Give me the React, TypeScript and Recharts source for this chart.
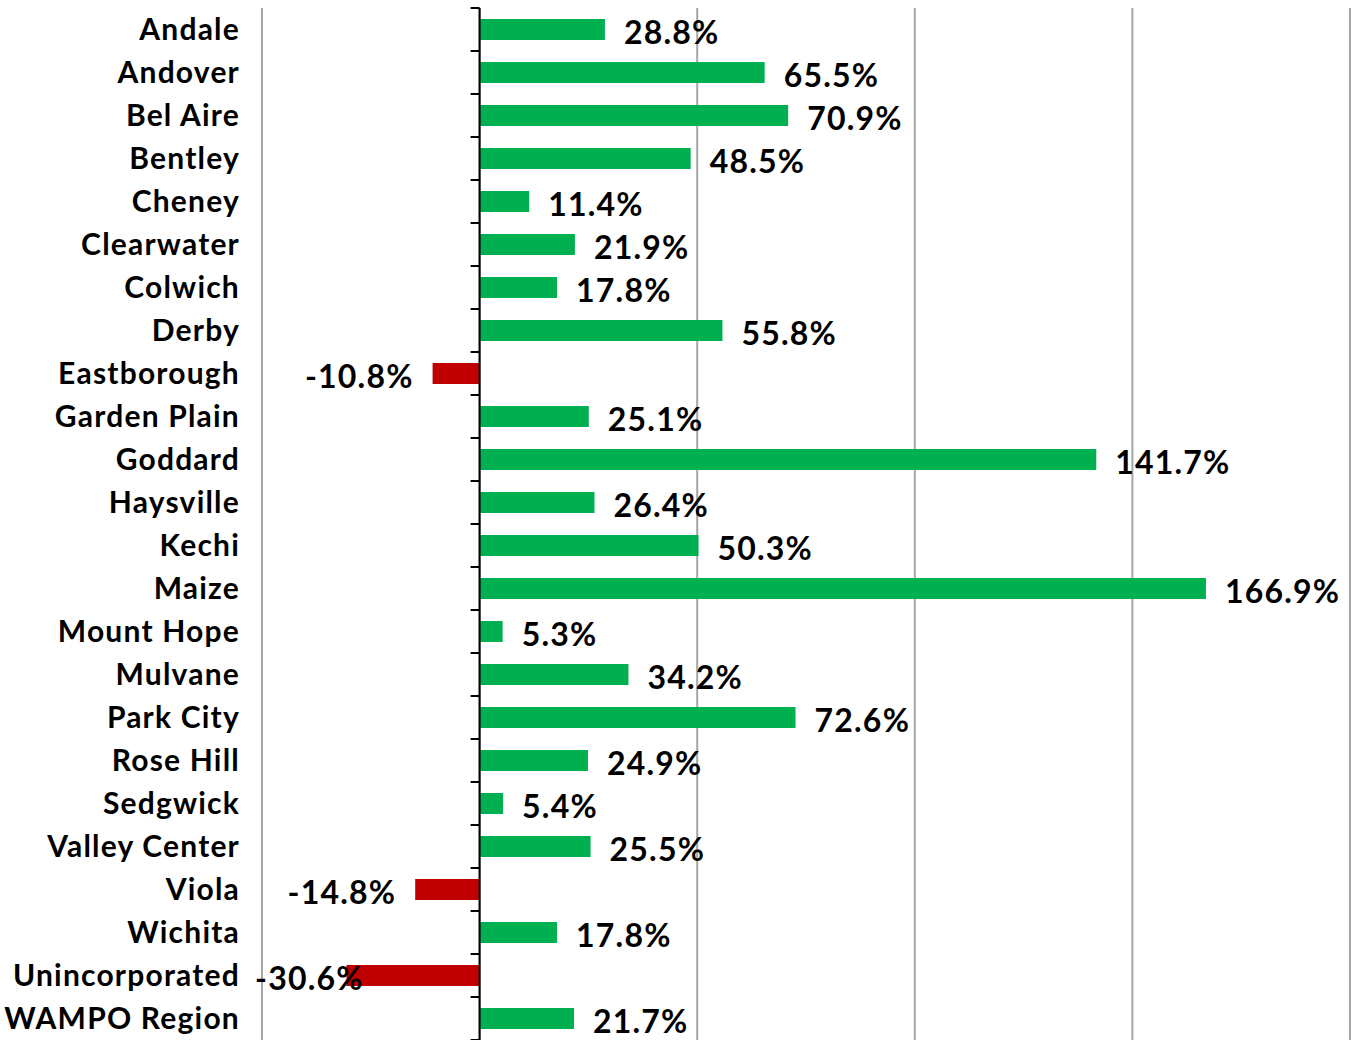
import React from 'react';
import {
    Bar,
    BarChart,
    CartesianGrid,
    Cell,
    LabelList,
    ReferenceLine,
    XAxis,
    YAxis,
} from 'recharts';

const places = [
    'Andale', 'Andover', 'Bel Aire', 'Bentley', 'Cheney', 'Clearwater', 'Colwich', 'Derby',
    'Eastborough', 'Garden Plain', 'Goddard', 'Haysville', 'Kechi', 'Maize', 'Mount Hope',
    'Mulvane', 'Park City', 'Rose Hill', 'Sedgwick', 'Valley Center', 'Viola', 'Wichita',
    'Unincorporated', 'WAMPO Region',
];

const growth = [
    28.8, 65.5, 70.9, 48.5, 11.4, 21.9, 17.8, 55.8,
    -10.8, 25.1, 141.7, 26.4, 50.3, 166.9, 5.3,
    34.2, 72.6, 24.9, 5.4, 25.5, -14.8, 17.8,
    -30.6, 21.7,
];

const xTicks = [-50, 0, 50, 100, 150, 200];

const data = places.map((name, i) => ({ name, value: growth[i] }));

const FONT = 'Lato, "Open Sans", sans-serif';
const GREEN = '#00b050';
const RED = '#c00000';
const AXIS_W = 262;

// vertical axis line at zero with small marks between categories
const ZeroAxis = (props: any) => {
    const { x1, y1, y2 } = props;
    if (x1 == null) return null;
    const step = (y2 - y1) / places.length;
    return (
        <g>
            <line x1={x1} y1={y1} x2={x1} y2={y2} stroke="#000" strokeWidth={2} />
            {places.concat(['']).map((_, i) => (
                <line
                    key={i}
                    x1={x1 - 9}
                    x2={x1}
                    y1={y1 + i * step}
                    y2={y1 + i * step}
                    stroke="#000"
                    strokeWidth={2}
                />
            ))}
        </g>
    );
};

const ValueLabel = (props: any) => {
    const { x, y, width, height, value } = props;
    const left = Math.min(x, x + width);
    const right = Math.max(x, x + width);
    const cy = y + height / 2 + 2;
    const text = `${value.toFixed(1)}%`;
    const common = {
        y: cy,
        dominantBaseline: 'central' as const,
        fontSize: 32,
        fontWeight: 700,
        fontFamily: FONT,
        letterSpacing: 1.2,
        fill: '#000',
    };
    if (value >= 0) {
        return <text {...common} x={right + 19} textAnchor="start">{text}</text>;
    }
    // keep the label inside the chart area, like Excel does
    const approxW = text.length * 17.5;
    const tx = left - 19;
    if (tx - approxW < AXIS_W - 7) {
        return <text {...common} x={AXIS_W - 7} textAnchor="start">{text}</text>;
    }
    return <text {...common} x={tx} textAnchor="end">{text}</text>;
};

export default function App() {
    return (
        <div style={{ position: 'fixed', top: 0, left: 0, width: 1354, height: 1040, overflow: 'hidden', background: '#fff' }}>
            <BarChart
                width={1354}
                height={1040}
                data={data}
                layout="vertical"
                margin={{ top: 8, right: 4, left: 0, bottom: 0 }}
                barSize={21}
            >
                <CartesianGrid horizontal={false} stroke="#a6a6a6" strokeWidth={2} />
                <XAxis
                    type="number"
                    domain={[-50, 200]}
                    ticks={xTicks}
                    hide
                />
                <YAxis
                    type="category"
                    dataKey="name"
                    width={AXIS_W}
                    axisLine={false}
                    tickLine={false}
                    tickSize={0}
                    tickMargin={22}
                    interval={0}
                    tick={{ fontSize: 30, fontWeight: 700, fill: '#000', fontFamily: FONT, letterSpacing: 1.2 }}
                />
                <Bar dataKey="value" isAnimationActive={false}>
                    {data.map((d, i) => (
                        <Cell key={i} fill={d.value < 0 ? RED : GREEN} />
                    ))}
                    <LabelList dataKey="value" content={<ValueLabel />} />
                </Bar>
                <ReferenceLine x={0} shape={<ZeroAxis />} />
            </BarChart>
        </div>
    );
}
